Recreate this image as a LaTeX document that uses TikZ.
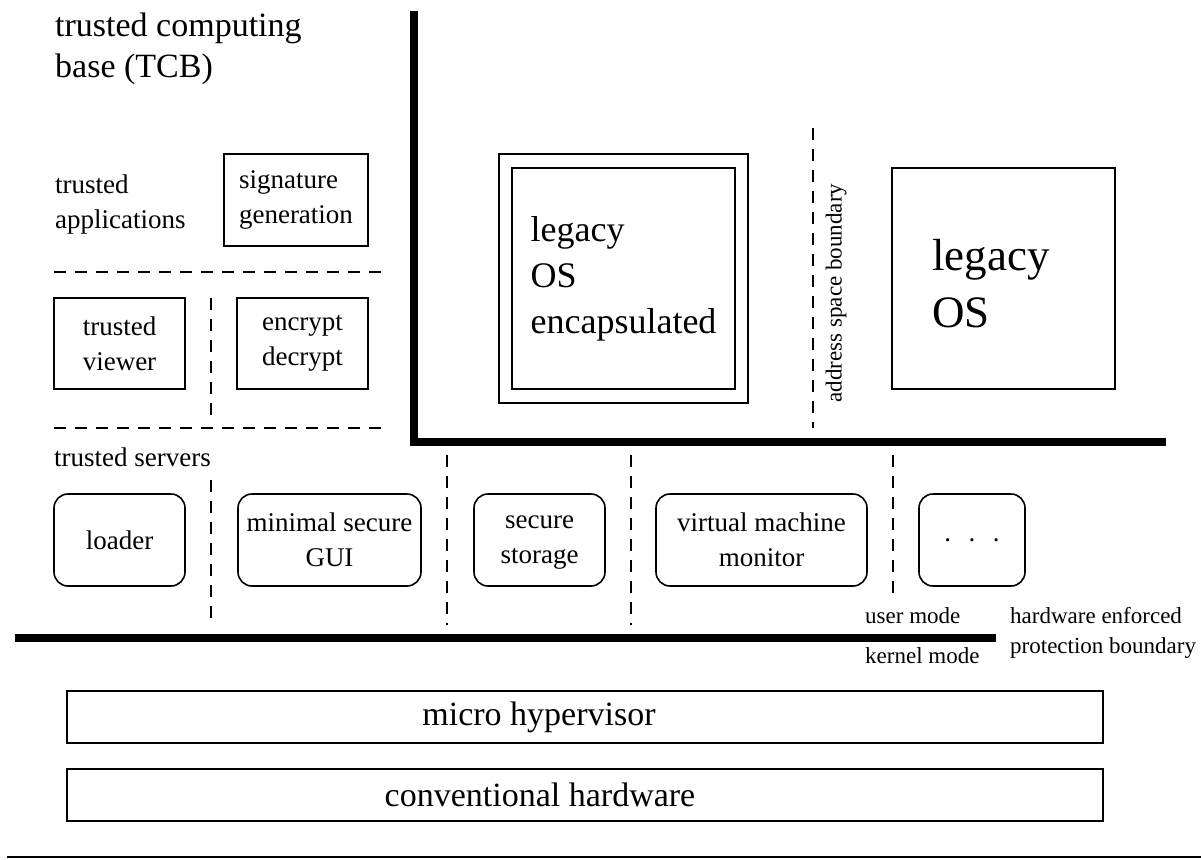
\documentclass[tikz,border=0pt]{standalone}
\usepackage{fontspec}
\setmainfont{Liberation Serif}

\begin{document}
\begin{tikzpicture}[x=1pt, y=-1pt,
  box/.style={draw, line width=1.6pt, inner sep=0pt, align=center, font=\fontsize{27}{35}\selectfont},
  srv/.style={box, rounded corners=14pt, minimum height=92pt},
  layer/.style={draw, line width=1.6pt, inner sep=0pt, minimum width=1036pt, minimum height=52pt},
  bigtxt/.style={inner sep=0pt, font=\fontsize{34}{41}\selectfont},
  lbl/.style={inner sep=0pt, align=left, font=\fontsize{27}{35}\selectfont},
  note/.style={inner sep=0pt, align=left, font=\fontsize{23}{30}\selectfont},
  wall/.style={line width=8pt},
  bnd/.style={line width=1.6pt, dash pattern=on 12pt off 9pt}]
\useasboundingbox (0,0) rectangle (1201,859);

% -- trusted computing base --
\node[bigtxt, align=left, anchor=north west] (tcb) at (55,13) {trusted computing\\base (TCB)};
\node[lbl, anchor=north west] (tapps) at (55,175) {trusted\\applications};
\node[box, align=left, minimum width=144pt, minimum height=92pt] (sig) at (296,200) {signature\\generation};
\draw[bnd] (54,272) -- (381,272);
\node[box, minimum width=131pt, minimum height=91pt] (viewer) at (119.5,343.5) {trusted\\viewer};
\node[box, minimum width=131pt, minimum height=91pt] (crypt) at (302.5,343.5) {encrypt\\decrypt};
\draw[bnd] (211,298) -- (211,415);
\draw[bnd] (54,428) -- (381,428);

% -- legacy side --
\draw[wall] (414,11) -- (414,442) -- (1166,442);
\node[draw, line width=1.6pt, minimum width=249pt, minimum height=249pt] (encout) at (623.5,278.5) {};
\node[box, align=left, minimum width=223pt, minimum height=221pt, font=\fontsize{36}{46}\selectfont] (encap) at (623.5,278.5) {legacy\\OS\\encapsulated};
\draw[bnd] (813,128) -- (813,428);
\node[note, rotate=90] (asb) at (836,293) {address space boundary};
\node[box, minimum width=223pt, minimum height=221pt] (legacy) at (1003.5,278.5) {};
\node[inner sep=0pt, align=left, anchor=west, font=\fontsize{45}{57}\selectfont] (legtxt) at (932,284) {legacy\\OS};

% -- trusted servers --
\node[lbl, anchor=north west] (tsrv) at (54,448) {trusted servers};
\node[srv, minimum width=131pt] (loader) at (119.5,540) {loader};
\node[srv, minimum width=183pt] (gui) at (329.5,540) {minimal secure\\GUI};
\node[srv, minimum width=131pt, text depth=0pt] (store) at (539.5,540) {secure\\storage};
\node[srv, minimum width=211pt] (vmm) at (761.5,540) {virtual machine\\monitor};
\node[srv, minimum width=106pt] (more) at (972,540) {.\hspace{17.5pt}.\hspace{17.5pt}.};
\foreach \x/\y in {211/480, 447/455, 631/455}{\draw[bnd] (\x,\y) -- (\x,625);}
\draw[bnd] (893,455) -- (893,598);

% -- protection boundary --
\draw[wall] (15,638) -- (996,638);
\node[note, anchor=base west] (umode) at (865,623) {user mode};
\node[note, anchor=base west] (kmode) at (865,663) {kernel mode};
\node[note, anchor=north west] (hwpb) at (1010,607) {hardware enforced\\protection boundary};

% -- lower layers --
\node[layer] (hyper) at (585,717) {};
\node[bigtxt] (hypertxt) at (539,717) {micro hypervisor};
\node[layer] (hw) at (585,795) {};
\node[bigtxt] (hwtxt) at (540,795) {conventional hardware};
\draw[line width=2pt] (7,857) -- (1201,857);
\end{tikzpicture}
\end{document}
